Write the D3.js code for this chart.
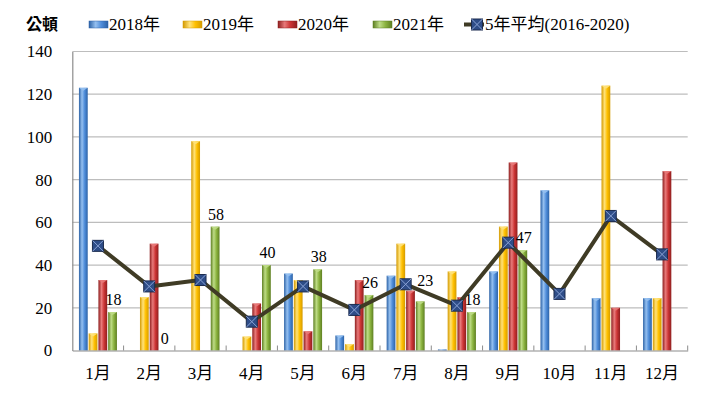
<!DOCTYPE html>
<html><head><meta charset="utf-8">
<script src="https://cdn.jsdelivr.net/npm/d3@7/dist/d3.min.js"></script>
<style>
html,body{margin:0;padding:0;background:#fff;}
svg{display:block;}
.serif{font-family:"Liberation Serif","Times New Roman",Times,"Noto Sans CJK TC",serif;}
</style></head>
<body>
<svg id="chart" width="706" height="394"></svg>
<script>
const months = ["1月","2月","3月","4月","5月","6月","7月","8月","9月","10月","11月","12月"];
const yTicks = [0,20,40,60,80,100,120,140];
const seriesNames = ["2018年","2019年","2020年","2021年"];
const s2018 = [123, 0, 0, 0, 36, 7, 35, 0.5, 37, 75, 24.5, 24.5];
const s2019 = [8, 25, 98, 6.5, 33, 3, 50, 37, 58, 0, 124, 24.5];
const s2020 = [33, 50, 0, 22, 9, 33, 28, 25, 88, 0, 20, 84];
const s2021 = [18, 0, 58, 40, 38, 26, 23, 18, 47, null, null, null];
const avgName = "5年平均(2016-2020)";
const avg = [49, 30, 33, 13.5, 30, 19, 31, 21, 50.5, 26.5, 63, 45];
const unitLabel = "公頓";

const seriesData = [s2018, s2019, s2020, s2021];
const palette = [
  {edge:"#2C62A6", mid:"#4F8DDA", hi:"#95C0F0"},
  {edge:"#D49A00", mid:"#FFC000", hi:"#FFE27A"},
  {edge:"#8E1F1F", mid:"#CC3535", hi:"#E87A7A"},
  {edge:"#5E7F22", mid:"#8CB440", hi:"#BEDC86"}
];

const svg = d3.select("#chart");
const defs = svg.append("defs");
palette.forEach((p,i)=>{
  const g = defs.append("linearGradient").attr("id","g"+i).attr("x1","0").attr("x2","1").attr("y1","0").attr("y2","0");
  g.append("stop").attr("offset","0%").attr("stop-color",p.edge);
  g.append("stop").attr("offset","35%").attr("stop-color",p.hi);
  g.append("stop").attr("offset","65%").attr("stop-color",p.mid);
  g.append("stop").attr("offset","100%").attr("stop-color",p.edge);
});

const pLeft = 72.3, pRight = 687.7, pTop = 51.5, pBottom = 350.5;
const x = d3.scaleBand().domain(months).range([pLeft,pRight]).padding(0);
const groupW = 38;
const xs = d3.scaleBand().domain(d3.range(4)).range([0,groupW]).paddingInner(0.1);
const y = d3.scaleLinear().domain([0,140]).range([pBottom,pTop]);

// gridlines
svg.append("g").selectAll("line").data(yTicks.filter(d=>d>0)).join("line")
  .attr("x1",pLeft).attr("x2",pRight)
  .attr("y1",d=>y(d)).attr("y2",d=>y(d))
  .attr("stroke","#BDBDBD").attr("stroke-width",1.2);

// y axis
const yAxis = d3.axisLeft(y).tickValues(yTicks).tickSize(0).tickPadding(20);
const yg = svg.append("g").attr("transform",`translate(${pLeft},0)`).call(yAxis);
yg.attr("font-family",null).attr("font-size",null);
yg.select(".domain").attr("stroke","#8C8C8C").attr("stroke-width",1.2);
yg.selectAll("text").attr("class","serif").style("font-size","17px").attr("fill","#000");

// bars
const offset = (x.bandwidth()-groupW)/2;
seriesData.forEach((arr,si)=>{
  const g = svg.append("g");
  const vals = months.map((m,i)=>({m, v:arr[i]})).filter(d=>d.v!==null && d.v>0);
  g.selectAll("rect").data(vals).join("rect")
    .attr("x",d=>x(d.m)+offset+xs(si))
    .attr("width",xs.bandwidth())
    .attr("y",d=>y(d.v))
    .attr("height",d=>Math.max(1,y(0)-y(d.v)))
    .attr("fill",`url(#g${si})`);
  g.selectAll("path").data(vals.filter(d=>y(0)-y(d.v)>4)).join("path")
    .attr("d",d=>{
      const x0 = x(d.m)+offset+xs(si), w = xs.bandwidth(), yt = y(d.v);
      return `M${x0},${yt} L${x0+w},${yt} L${x0+w/2},${yt+3} Z`;
    })
    .attr("fill",palette[si].hi).attr("opacity",0.9);
});

// x axis
const xAxis = d3.axisBottom(x).tickSize(0).tickPadding(16);
const xg = svg.append("g").attr("transform",`translate(0,${pBottom})`).call(xAxis);
xg.attr("font-family",null).attr("font-size",null);
xg.select(".domain").attr("stroke","#8C8C8C").attr("stroke-width",1.2);
xg.selectAll("text").attr("class","serif").style("font-size","17px").attr("fill","#000");
const bounds = months.slice(1).map(m=>x(m)).concat([pRight]);
svg.append("g").selectAll("line").data(bounds).join("line")
  .attr("x1",d=>d).attr("x2",d=>d).attr("y1",pBottom).attr("y2",pBottom-5)
  .attr("stroke","#8C8C8C").attr("stroke-width",1);

// avg line geometry
const cx = i => x(months[i])+x.bandwidth()/2;
function lineYAt(px){
  for(let i=0;i<avg.length-1;i++){
    if(px>=cx(i) && px<=cx(i+1)){
      const t=(px-cx(i))/(cx(i+1)-cx(i));
      return y(avg[i])+(y(avg[i+1])-y(avg[i]))*t;
    }
  }
  return null;
}

// data labels on 2021 (nudged above the average line when they collide)
const lbl = months.map((m,i)=>({m,v:s2021[i]})).filter(d=>d.v!==null).map(d=>{
  let lx = x(d.m)+offset+xs(3)+xs.bandwidth()/2+1;
  let ly = y(d.v)-7;
  const ly2 = lineYAt(lx);
  if(ly2!==null && ly>ly2-4 && ly-12<ly2+4){ ly = ly2-5; lx += 4; }
  return {...d, lx, ly};
});
svg.append("g").selectAll("text").data(lbl).join("text")
  .attr("class","serif")
  .attr("x",d=>d.lx).attr("y",d=>d.ly)
  .attr("text-anchor","middle")
  .style("font-size","16px").attr("fill","#000")
  .text(d=>d.v);

// avg line
const lineGen = d3.line().x((d,i)=>cx(i)).y(d=>y(d));
svg.append("path").datum(avg).attr("d",lineGen)
  .attr("fill","none").attr("stroke","#3F3B25").attr("stroke-width",4).attr("stroke-linejoin","round");

function marker(g, mx, my, s){
  g.append("rect").attr("x",mx-s/2).attr("y",my-s/2).attr("width",s).attr("height",s)
    .attr("fill","#2E4D88").attr("stroke","#1B2B4E").attr("stroke-width",1);
  g.append("path").attr("d",`M${mx-s/2},${my-s/2}L${mx+s/2},${my+s/2}M${mx+s/2},${my-s/2}L${mx-s/2},${my+s/2}`)
    .attr("stroke","#8AA3D6").attr("stroke-width",1);
}
const mg = svg.append("g");
avg.forEach((v,i)=>marker(mg, cx(i), y(v), 11));

// legend
const lg = svg.append("g");
lg.append("text").attr("x",26).attr("y",30).style("font-family","'Noto Sans CJK TC','Noto Sans CJK SC',sans-serif")
  .attr("font-weight","bold").style("font-size","16px").text(unitLabel);
const legX = [89,183,278,373];
seriesNames.forEach((n,i)=>{
  lg.append("rect").attr("x",legX[i]).attr("y",21).attr("width",19).attr("height",7).attr("fill",`url(#g${i})`)
    .attr("stroke",palette[i].edge).attr("stroke-width",0.5);
  lg.append("text").attr("class","serif").attr("x",legX[i]+20).attr("y",30).style("font-size","17px").text(n);
});
lg.append("line").attr("x1",464).attr("x2",484).attr("y1",24.5).attr("y2",24.5).attr("stroke","#3F3B25").attr("stroke-width",4);
marker(lg, 477, 24.5, 11);
lg.append("text").attr("class","serif").attr("x",485).attr("y",30).style("font-size","17px").text(avgName);
</script>
</body></html>
